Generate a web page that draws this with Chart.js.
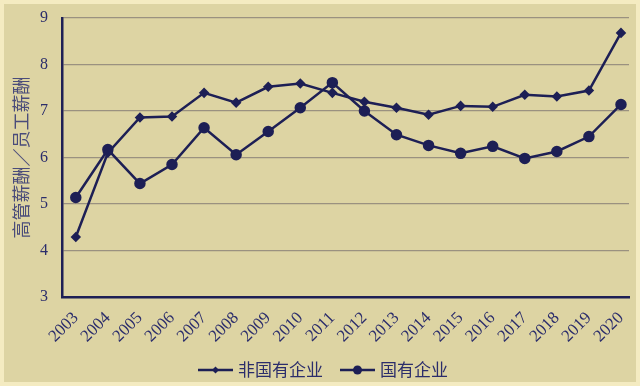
<!DOCTYPE html>
<html>
<head>
<meta charset="utf-8">
<script src="https://cdn.jsdelivr.net/npm/chart.js@4.4.1/dist/chart.umd.min.js"></script>
<style>
  html, body { margin: 0; padding: 0; background: #f4ebc1; }
  #wrap { position: absolute; left: 4px; top: 4px; width: 632px; height: 378px; background: #ddd4a3; }
  canvas { display: block; }
</style>
</head>
<body>
<div id="wrap"><canvas id="salaryChart" width="632" height="378"></canvas></div>
<script>
// 年份
const years = [2003, 2004, 2005, 2006, 2007, 2008, 2009, 2010, 2011,
               2012, 2013, 2014, 2015, 2016, 2017, 2018, 2019, 2020];
// 非国有企业 高管薪酬/员工薪酬
const nonStateValues = [4.29, 6.10, 6.86, 6.88, 7.39, 7.18, 7.52, 7.59, 7.39,
                        7.20, 7.07, 6.92, 7.11, 7.09, 7.35, 7.31, 7.44, 8.68];
// 国有企业
const stateValues = [5.14, 6.17, 5.44, 5.85, 6.64, 6.06, 6.56, 7.07, 7.61,
                     7.00, 6.49, 6.26, 6.09, 6.24, 5.98, 6.13, 6.45, 7.14];
const yTicks = [3, 4, 5, 6, 7, 8, 9];

const ink = '#1d1f55';
const textInk = '#2b2d6b';

// legend with line + marker, drawn under the axis labels
const lineLegend = {
    id: 'lineLegend',
    afterDraw(chart) {
        const c = chart.ctx;
        const y = 366;
        const items = [
            { x: 194, ds: chart.data.datasets[0] },
            { x: 336, ds: chart.data.datasets[1] }
        ];
        c.save();
        items.forEach(function (it) {
            c.strokeStyle = ink;
            c.lineWidth = 2.5;
            c.beginPath();
            c.moveTo(it.x, y);
            c.lineTo(it.x + 35, y);
            c.stroke();
            c.fillStyle = ink;
            c.beginPath();
            if (it.ds.pointStyle === 'rectRot') {
                const r = 3.5;
                c.moveTo(it.x + 17.5, y - r);
                c.lineTo(it.x + 17.5 + r, y);
                c.lineTo(it.x + 17.5, y + r);
                c.lineTo(it.x + 17.5 - r, y);
                c.closePath();
            } else {
                c.arc(it.x + 17.5, y, 4.5, 0, Math.PI * 2);
            }
            c.fill();
            c.fillStyle = textInk;
            c.font = '17px "Noto Sans CJK SC"';
            c.textBaseline = 'middle';
            c.textAlign = 'left';
            c.fillText(it.ds.label, it.x + 40, y);
        });
        c.restore();
    }
};

const ctx = document.getElementById('salaryChart').getContext('2d');
new Chart(ctx, {
    type: 'line',
    data: {
        datasets: [{
            label: '非国有企业',
            data: years.map((yr, i) => ({ x: yr, y: nonStateValues[i] })),
            borderColor: ink,
            backgroundColor: ink,
            borderWidth: 2.5,
            pointStyle: 'rectRot',
            pointRadius: 3.5,
            tension: 0
        }, {
            label: '国有企业',
            data: years.map((yr, i) => ({ x: yr, y: stateValues[i] })),
            borderColor: ink,
            backgroundColor: ink,
            borderWidth: 2.5,
            pointStyle: 'circle',
            pointRadius: 4.5,
            tension: 0
        }]
    },
    options: {
        responsive: false,
        animation: false,
        layout: { padding: { top: 14, right: 3, left: 0, bottom: 0 } },
        plugins: {
            legend: { display: false },
            tooltip: { enabled: false }
        },
        scales: {
            x: {
                type: 'linear',
                min: 2002.57,
                max: 2020.25,
                afterBuildTicks: function (scale) {
                    scale.ticks = years.map(v => ({ value: v }));
                },
                afterFit: function (scale) {
                    scale.height = 85;
                    scale.paddingTop = 0;
                    scale.paddingBottom = 0;
                    scale.paddingLeft = 0;
                    scale.paddingRight = 0;
                },
                grid: { display: false, drawTicks: false },
                border: { display: true, color: ink, width: 2.5 },
                ticks: {
                    autoSkip: false,
                    maxRotation: 45,
                    minRotation: 45,
                    padding: 11,
                    color: textInk,
                    font: { family: '"Liberation Serif", "DejaVu Serif", serif', size: 17 },
                    callback: v => String(v)
                }
            },
            y: {
                min: 3,
                max: 9,
                afterBuildTicks: function (scale) {
                    scale.ticks = yTicks.map(v => ({ value: v }));
                },
                afterFit: function (scale) {
                    scale.width = 58;
                    scale.paddingTop = 0;
                    scale.paddingBottom = 0;
                },
                grid: { color: 'rgba(110, 100, 105, 0.6)', lineWidth: 1.2, drawTicks: false },
                border: { display: true, color: ink, width: 2.5 },
                ticks: {
                    padding: 14,
                    color: textInk,
                    font: { family: '"Liberation Serif", "DejaVu Serif", serif', size: 16 }
                },
                title: {
                    display: true,
                    text: '高管薪酬／员工薪酬',
                    color: '#4a4c7a',
                    padding: { top: 6, bottom: 0 },
                    font: { family: '"Noto Sans CJK SC"', size: 18 }
                }
            }
        }
    },
    plugins: [lineLegend]
});
</script>
</body>
</html>
